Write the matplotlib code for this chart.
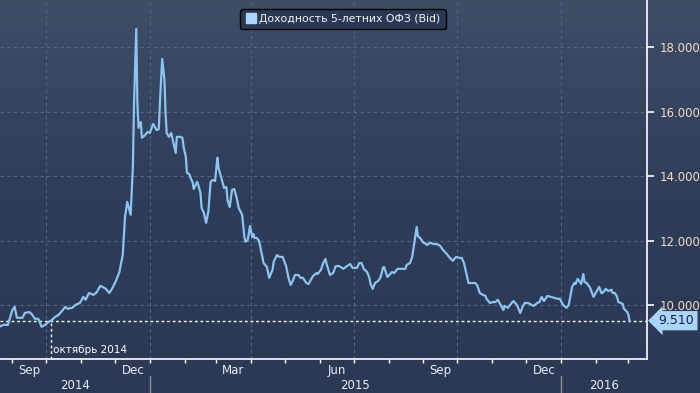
import numpy as np
import pandas as pd
import matplotlib
matplotlib.use("Agg")
import matplotlib.pyplot as plt
import matplotlib.dates as mdates
from matplotlib.colors import LinearSegmentedColormap
from matplotlib.lines import Line2D

# 5-year OFZ yield (Bid); day = days since 2014-08-21
start = pd.Timestamp("2014-08-21")
day = [0, 3, 7, 11, 13, 15, 20, 22, 26, 28, 31, 34, 37, 40, 43, 46, 49, 52, 55, 58,
       60, 64, 67, 71, 74, 76, 79, 83, 86, 89, 91, 94, 97, 100, 103, 106, 109, 111, 113, 116,
       118, 119, 121, 122, 123, 125, 126, 129, 131, 133, 136, 139, 141, 142, 144, 146, 147, 148, 150, 152,
       154, 156, 157, 160, 162, 163, 165, 166, 168, 170, 171, 172, 175, 176, 178, 179, 181, 183, 185, 187,
       189, 191, 193, 194, 197, 199, 201, 202, 204, 206, 208, 210, 212, 215, 217, 218, 220, 222, 224, 225,
       226, 228, 230, 233, 234, 237, 239, 242, 243, 246, 248, 251, 254, 256, 258, 260, 262, 265, 267, 269,
       272, 274, 276, 278, 281, 282, 285, 287, 289, 290, 293, 296, 298, 301, 305, 307, 311, 313, 317, 319,
       321, 323, 326, 328, 329, 331, 333, 336, 338, 340, 341, 344, 345, 348, 350, 353, 355, 360, 361, 364,
       366, 368, 370, 371, 373, 376, 377, 379, 382, 385, 388, 391, 393, 396, 399, 402, 405, 408, 410, 412,
       414, 416, 419, 422, 424, 426, 429, 431, 432, 435, 438, 440, 442, 444, 447, 448, 451, 455, 456, 459,
       462, 464, 466, 469, 472, 474, 477, 479, 481, 483, 486, 489, 492, 495, 497, 500, 502, 503, 505, 508,
       510, 511, 513, 516, 518, 519, 521, 524, 527, 529, 532, 534, 535, 538, 540, 543, 544, 546, 548, 549,
       551, 553, 554, 557, 558, 559]
yld = [9.33, 9.38, 9.38, 9.84, 9.94, 9.60, 9.60, 9.75, 9.78, 9.72, 9.57, 9.57, 9.32, 9.38, 9.47, 9.53, 9.63, 9.69, 9.81, 9.94,
       9.88, 9.91, 10.00, 10.06, 10.25, 10.16, 10.37, 10.31, 10.40, 10.59, 10.56, 10.50, 10.37, 10.53, 10.75, 11.02, 11.55, 12.73, 13.20, 12.80,
       14.29, 16.27, 18.57, 16.27, 15.50, 15.68, 15.19, 15.28, 15.37, 15.34, 15.62, 15.43, 15.46, 16.27, 17.64, 16.99, 15.96, 15.34, 15.22, 15.34,
       15.03, 14.72, 15.22, 15.22, 15.19, 14.91, 14.60, 14.10, 14.07, 13.88, 13.82, 13.60, 13.82, 13.73, 13.48, 13.01, 12.86, 12.55, 12.89, 13.82,
       13.88, 13.85, 14.57, 14.26, 13.88, 13.63, 13.66, 13.26, 13.04, 13.57, 13.60, 13.35, 13.01, 12.80, 12.11, 11.96, 12.02, 12.45, 12.11, 12.20,
       12.08, 12.08, 11.99, 11.49, 11.30, 11.18, 10.84, 11.09, 11.34, 11.55, 11.49, 11.49, 11.21, 10.87, 10.62, 10.75, 10.93, 10.93, 10.84, 10.84,
       10.68, 10.65, 10.78, 10.90, 10.99, 10.96, 11.09, 11.30, 11.43, 11.27, 10.93, 11.00, 11.20, 11.21, 11.12, 11.18, 11.27, 11.15, 11.15, 11.30,
       11.30, 11.12, 11.02, 10.84, 10.65, 10.50, 10.68, 10.75, 10.87, 11.15, 11.18, 10.87, 10.90, 11.02, 10.99, 11.12, 11.12, 11.12, 11.24, 11.30,
       11.49, 11.96, 12.42, 12.14, 12.08, 11.93, 11.93, 11.86, 11.93, 11.89, 11.89, 11.83, 11.72, 11.61, 11.48, 11.37, 11.49, 11.46, 11.46, 11.30,
       10.99, 10.68, 10.68, 10.68, 10.59, 10.37, 10.31, 10.28, 10.19, 10.06, 10.09, 10.09, 10.16, 10.03, 9.84, 9.97, 9.91, 10.09, 10.12, 10.00,
       9.75, 9.94, 10.06, 10.06, 10.00, 9.97, 10.06, 10.09, 10.25, 10.12, 10.28, 10.25, 10.22, 10.19, 10.19, 10.00, 9.94, 9.91, 10.00, 10.56,
       10.68, 10.65, 10.81, 10.65, 10.96, 10.71, 10.68, 10.53, 10.25, 10.37, 10.56, 10.37, 10.37, 10.50, 10.43, 10.47, 10.37, 10.37, 10.25, 10.09,
       10.06, 10.03, 9.88, 9.78, 9.69, 9.51]

last_value = 9.51
cross_date = pd.Timestamp("2014-10-05")   # October 2014 level of the same yield
month_labels = ["Sep", "Dec", "Mar", "Jun", "Sep", "Dec"]
month_label_dates = ["2014-09-16", "2014-12-17", "2015-03-16", "2015-06-16", "2015-09-16", "2015-12-17"]
years = ["2014", "2015", "2016"]
quarter_lines = ["2014-10-01", "2015-01-01", "2015-04-01", "2015-07-01", "2015-10-01", "2016-01-01"]
yticks = [10, 12, 14, 16, 18]

dates = start + pd.to_timedelta(day, unit="D")
x_end = start + pd.Timedelta(days=574.5)
y_lo, y_hi = 8.32, 19.47

fig = plt.figure(figsize=(7, 3.93), dpi=100)

# background gradient
bg = fig.add_axes([0, 0, 1, 1])
cmap = LinearSegmentedColormap.from_list("bb", ["#2b3955", "#2e3d59", "#3f4d67"])
grad = np.linspace(0, 1, 256).reshape(-1, 1)
bg.imshow(grad, aspect="auto", cmap=cmap, extent=[0, 1, 0, 1], origin="lower")
bg.axis("off")

ax = fig.add_axes([0, 1 - 359 / 393, 647 / 700, 359 / 393])
ax.patch.set_alpha(0)

ax.plot(dates, yld, color="#8cc3ef", lw=1.6, zorder=3)

ax.set_xlim(start, x_end)
ax.set_ylim(y_lo, y_hi)

# grid
for yv in yticks:
    ax.axhline(yv, color="#4c6886", lw=0.8, ls=(0, (3, 3)), zorder=1)
for q in quarter_lines:
    ax.axvline(pd.Timestamp(q), color="#4c6886", lw=0.8, ls=(0, (3, 3)), zorder=1)

# last value reference lines
ax.axhline(last_value, color="white", lw=1.0, ls=(0, (2, 2)), zorder=2)
ax.plot([cross_date, cross_date], [y_lo, last_value], color="white", lw=1.0,
        ls=(0, (2, 2)), zorder=2)
ax.text(cross_date + pd.Timedelta(days=2), 8.6, "октябрь 2014", color="white",
        fontsize=7.5, va="center", ha="left")

# spines
for s in ["top", "left"]:
    ax.spines[s].set_visible(False)
for s in ["bottom", "right"]:
    ax.spines[s].set_color("white")
    ax.spines[s].set_linewidth(1.2)

# y axis on the right
ax.yaxis.tick_right()
ax.set_yticks(yticks)
ax.set_yticklabels([f"{v:.3f}" for v in yticks])
ax.tick_params(axis="y", direction="out", length=5, width=1.2, color="white",
               labelcolor="#f3dcc2", labelsize=8.5, pad=4)

# x axis: month ticks, custom labels
ax.xaxis.set_major_locator(mdates.MonthLocator())
ax.tick_params(axis="x", direction="out", length=3, width=1, color="white",
               labelbottom=False)
tr = ax.get_xaxis_transform()
for lab, d in zip(month_labels, month_label_dates):
    ax.text(pd.Timestamp(d), -0.032, lab, transform=tr, ha="center", va="center",
            color="#e8eef6", fontsize=8.5, clip_on=False)

year_bounds = [start, pd.Timestamp("2015-01-01"), pd.Timestamp("2016-01-01"), x_end]
for i, yr in enumerate(years):
    mid = year_bounds[i] + (year_bounds[i + 1] - year_bounds[i]) / 2
    ax.text(mid, -0.073, yr, transform=tr, ha="center", va="center",
            color="#e8eef6", fontsize=8.5, clip_on=False)
for b in year_bounds[1:3]:
    ax.plot([b, b], [-0.048, -0.095], transform=tr, color="#8d939e", lw=1,
            clip_on=False)

# last value tag
ax.text(1.018, (last_value - y_lo) / (y_hi - y_lo), "9.510", transform=ax.transAxes,
        ha="left", va="center", fontsize=9, color="#14233b",
        bbox=dict(boxstyle="larrow,pad=0.25", fc="#a9d4fb", ec="none"), clip_on=False)

# legend
handle = Line2D([], [], marker="s", ls="none", color="#a9d4fb", markersize=7)
leg = fig.legend([handle], ["Доходность 5-летних ОФЗ (Bid)"], loc="upper center",
                 bbox_to_anchor=(343 / 700, 0.99), fontsize=7.8, facecolor="#2b3853",
                 edgecolor="black", framealpha=1, fancybox=True, handletextpad=0.3,
                 borderpad=0.45, handlelength=1.0)
for t in leg.get_texts():
    t.set_color("#f2f4f8")

fig.savefig("out.png", dpi=100)
